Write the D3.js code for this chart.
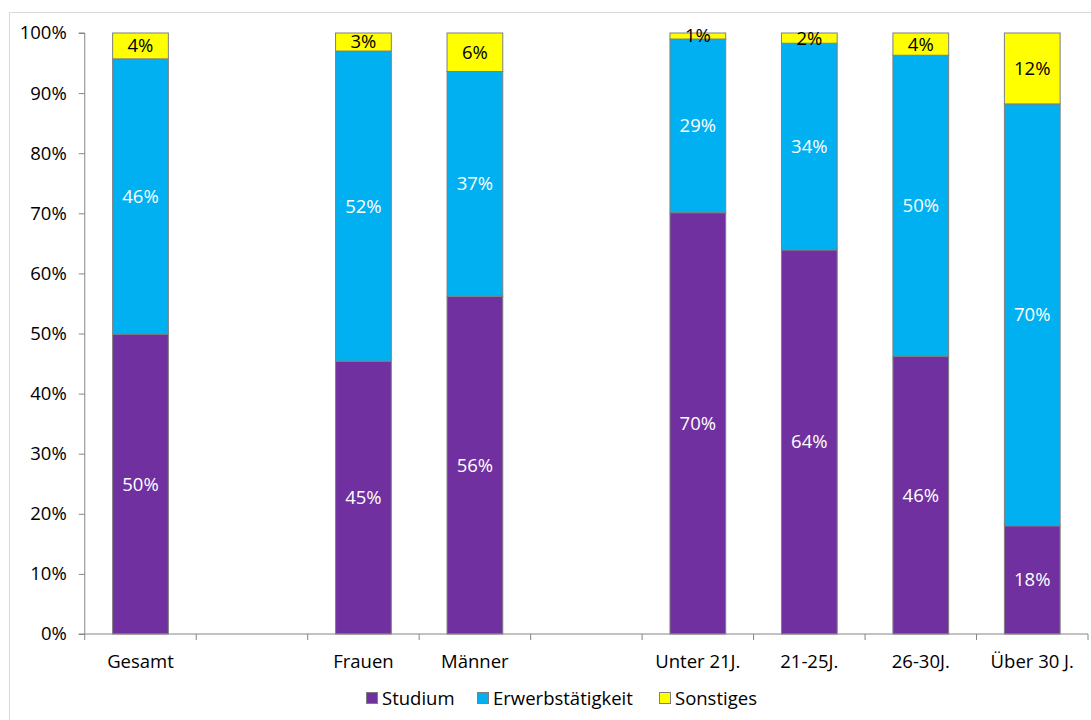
<!DOCTYPE html>
<html>
<head>
<meta charset="utf-8">
<script src="https://cdn.jsdelivr.net/npm/d3@7"></script>
<style>
  html, body { margin: 0; padding: 0; background: #fff; }
  svg { display: block; font-family: "Open Sans", Lato, sans-serif; }
</style>
</head>
<body>
<svg id="chart" width="1091" height="720"></svg>
<script>
// Category slots (empty strings are spacer slots between groups)
const categories = ["Gesamt", "", "Frauen", "Männer", "", "Unter 21J.", "21-25J.", "26-30J.", "Über 30 J."];
const seriesNames = ["Studium", "Erwerbstätigkeit", "Sonstiges"];
const studium           = [0.499, null, 0.454, 0.562, null, 0.701, 0.639, 0.462, 0.180];
const erwerbstaetigkeit = [0.458, null, 0.516, 0.374, null, 0.289, 0.344, 0.501, 0.702];
const sonstiges         = [0.043, null, 0.030, 0.064, null, 0.010, 0.017, 0.037, 0.118];
const yTicks = [0, 0.1, 0.2, 0.3, 0.4, 0.5, 0.6, 0.7, 0.8, 0.9, 1.0];

const colors = ["#7030a0", "#00b0f0", "#ffff00"];
const labelColors = ["#ffffff", "#ffffff", "#000000"];
const FONT = 18.5;

const svg = d3.select("#chart");
const margin = { left: 84.75, top: 33, right: 1088, bottom: 634 };

// outer frame
svg.append("rect")
  .attr("x", 9.5).attr("y", 12.5)
  .attr("width", 1100).attr("height", 720)
  .attr("fill", "none").attr("stroke", "#d9d9d9");

const x = d3.scaleBand()
  .domain(d3.range(categories.length))
  .range([margin.left, margin.right])
  .paddingInner(0.5).paddingOuter(0.25);

const y = d3.scaleLinear().domain([0, 1]).range([margin.bottom, margin.top]);

const rows = categories.map((c, i) => ({
  i, cat: c,
  Studium: studium[i], "Erwerbstätigkeit": erwerbstaetigkeit[i], Sonstiges: sonstiges[i]
})).filter(d => d.Studium !== null);

const stack = d3.stack().keys(seriesNames);
const layers = stack(rows);

const g = svg.append("g");
layers.forEach((layer, li) => {
  g.selectAll(null).data(layer).enter().append("rect")
    .attr("x", d => x(d.data.i))
    .attr("width", x.bandwidth())
    .attr("y", d => y(d[1]))
    .attr("height", d => y(d[0]) - y(d[1]))
    .attr("fill", colors[li])
    .attr("stroke", "#7f7f7f")
    .attr("stroke-width", 1);
});
const fmt = d3.format(".0%");
layers.forEach((layer, li) => {
  g.selectAll(null).data(layer).enter().append("text")
    .attr("x", d => x(d.data.i) + x.bandwidth() / 2)
    .attr("y", d => (y(d[0]) + y(d[1])) / 2)
    .attr("dy", "0.35em")
    .attr("text-anchor", "middle")
    .attr("font-size", FONT)
    .attr("fill", labelColors[li])
    .text(d => fmt(d[1] - d[0]));
});

// y axis
const yAxis = d3.axisLeft(y).tickValues(yTicks).tickFormat(d3.format(".0%"))
  .tickSize(6).tickPadding(12);
const ya = svg.append("g").attr("transform", `translate(${margin.left},0)`).call(yAxis);
ya.select(".domain").attr("stroke", "#868686").attr("d", `M-6,${margin.top}H0V${margin.bottom}H-6`);
ya.selectAll(".tick line").attr("stroke", "#868686");
ya.selectAll("text").attr("font-size", FONT).attr("fill", "#000")
  .attr("font-family", "'Open Sans', Lato, sans-serif");

// x axis: ticks at slot boundaries
const step = x.step();
const boundaries = d3.range(categories.length + 1).map(k => margin.left + k * step);
const xa = svg.append("g");
xa.append("line")
  .attr("x1", margin.left).attr("x2", margin.right)
  .attr("y1", margin.bottom).attr("y2", margin.bottom)
  .attr("stroke", "#868686");
xa.selectAll(null).data(boundaries).enter().append("line")
  .attr("x1", d => d).attr("x2", d => d)
  .attr("y1", margin.bottom).attr("y2", margin.bottom + 6)
  .attr("stroke", "#868686");
xa.selectAll(null).data(categories).enter().append("text")
  .attr("x", (d, i) => x(i) + x.bandwidth() / 2)
  .attr("y", 668)
  .attr("text-anchor", "middle")
  .attr("font-size", FONT)
  .attr("fill", "#000")
  .text(d => d);

// legend
const legendX = [366, 477, 659];
const lg = svg.append("g");
seriesNames.forEach((name, i) => {
  lg.append("rect")
    .attr("x", legendX[i] + 0.5).attr("y", 692.5)
    .attr("width", 11).attr("height", 11)
    .attr("fill", colors[i]).attr("stroke", "#7f7f7f");
  lg.append("text")
    .attr("x", legendX[i] + 16).attr("y", 705)
    .attr("font-size", FONT).attr("fill", "#000")
    .text(name);
});
</script>
</body>
</html>
